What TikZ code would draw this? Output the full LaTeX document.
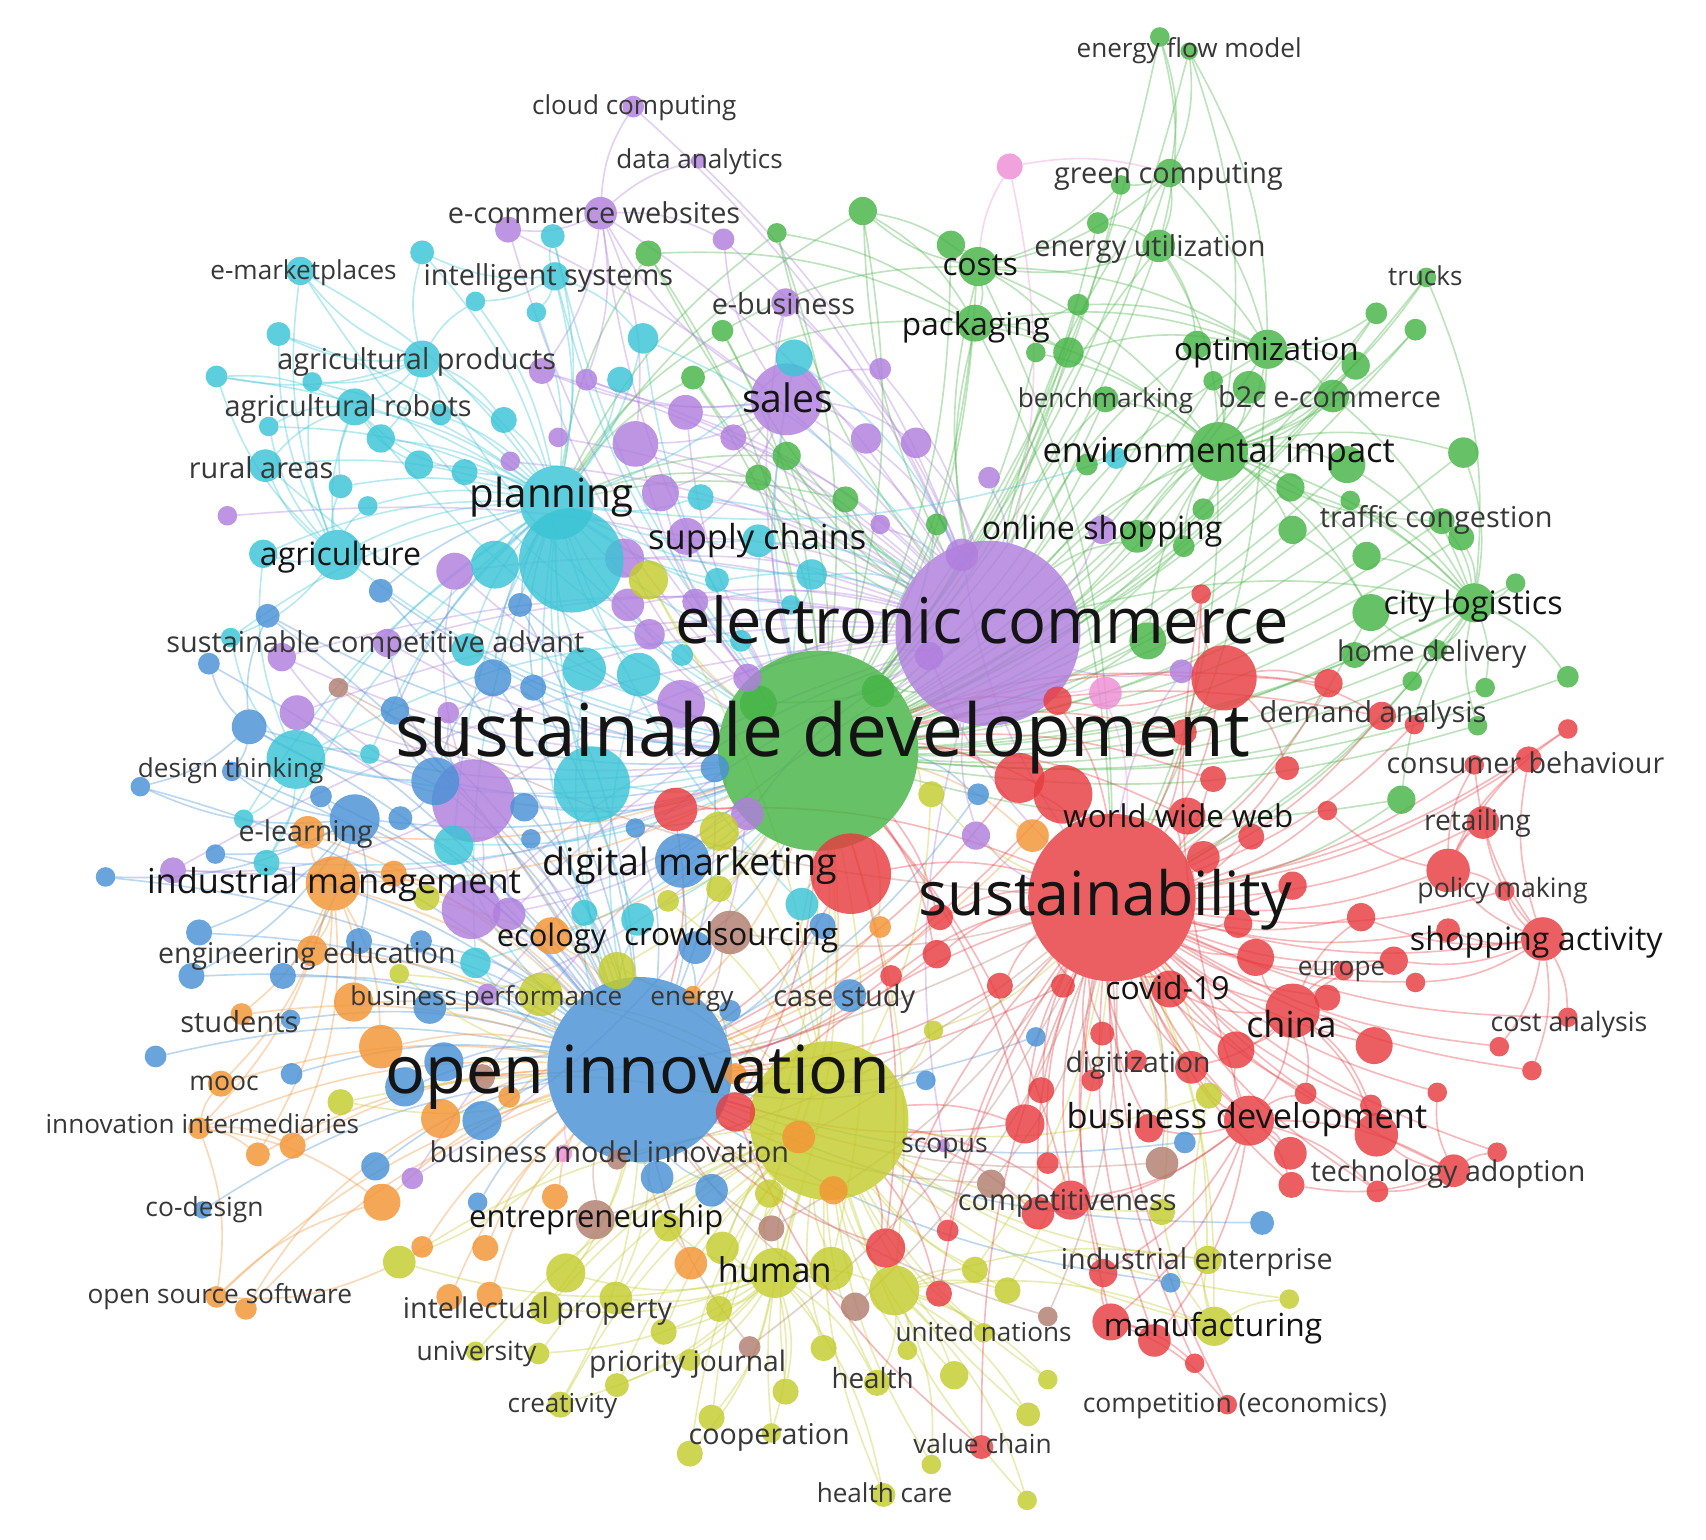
\documentclass[tikz,border=0pt]{standalone}
\usepackage{fontspec}
\setmainfont{Open Sans}
\usetikzlibrary{backgrounds}
\definecolor{cR}{RGB}{231,60,64}
\definecolor{cG}{RGB}{70,180,70}
\definecolor{cB}{RGB}{72,145,214}
\definecolor{cY}{RGB}{196,204,44}
\definecolor{cP}{RGB}{176,126,222}
\definecolor{cC}{RGB}{58,196,214}
\definecolor{cO}{RGB}{244,148,52}
\definecolor{cN}{RGB}{178,126,112}
\definecolor{cK}{RGB}{238,142,214}
\definecolor{labg}{RGB}{55,55,55}
\definecolor{labd}{RGB}{20,20,20}
\tikzset{
 vtx/.style={circle, inner sep=0pt, outer sep=0pt, draw=none, fill opacity=0.82},
 lab/.style={anchor=base, inner sep=0pt, outer sep=0pt, text=labg},
 labd/.style={anchor=base, inner sep=0pt, outer sep=0pt, text=labd},
 ebase/.style={line width=1.5pt, draw opacity=0.36},
 eR/.style={ebase, draw=cR}, eG/.style={ebase, draw=cG}, eB/.style={ebase, draw=cB},
 eY/.style={ebase, draw=cY}, eP/.style={ebase, draw=cP}, eC/.style={ebase, draw=cC},
 eO/.style={ebase, draw=cO}, eN/.style={ebase, draw=cN}, eK/.style={ebase, draw=cK}
}
\newcommand\vx[5]{\node[vtx, fill=#2, minimum size={2*#5pt}] (#1) at (#3,#4) {};}
\newcommand\lb[5]{\node[lab, font=\fontsize{#4}{#4}\selectfont] (#1) at (#2,{#3+0.29*#4+2}) {#5};}
\newcommand\lbd[5]{\node[labd, font=\fontsize{#4}{#4}\selectfont] (#1) at (#2,{#3+0.29*#4+2}) {#5};}
\begin{document}
\begin{tikzpicture}[x=1pt,y=-1pt]
\useasboundingbox (0,0) rectangle (1568,1415);
% ---------- hubs ----------
\vx{sd}{cG}{752}{690}{92}
\vx{ec}{cP}{908}{582}{85}
\vx{su}{cR}{1022}{825}{77}
\vx{oi}{cB}{588}{983}{85}
\vx{yb}{cY}{762}{1030}{73}
\vx{pl}{cC}{512}{462}{34}
% ---------- green ----------
\vx{g1}{cG}{1066}{34}{9}
\vx{g2}{cG}{1093}{47}{8}
\vx{g3}{cG}{1075}{159}{13}
\vx{g4}{cG}{1030}{170}{9}
\vx{g5}{cG}{1009}{205}{10}
\vx{g6}{cG}{1065}{226}{15}
\vx{g7}{cG}{874}{225}{13}
\vx{g8}{cG}{899}{245}{18}
\vx{g9}{cG}{793}{194}{13}
\vx{g10}{cG}{714}{214}{9}
\vx{g11}{cG}{596}{233}{12}
\vx{g12}{cG}{991}{280}{10}
\vx{g13}{cG}{664}{304}{10}
\vx{g14}{cG}{896}{297}{17}
\vx{g15}{cG}{952}{324}{9}
\vx{g16}{cG}{982}{324}{14}
\vx{g17}{cG}{637}{347}{11}
\vx{g18}{cG}{1311}{255}{9}
\vx{g19}{cG}{1265}{288}{10}
\vx{g20}{cG}{1301}{303}{10}
\vx{g21}{cG}{1100}{317}{13}
\vx{g22}{cG}{1165}{321}{18}
\vx{g23}{cG}{1246}{336}{13}
\vx{g24}{cG}{1115}{350}{9}
\vx{g25}{cG}{1148}{356}{15}
\vx{g26}{cG}{1225}{364}{15}
\vx{g27}{cG}{1016}{367}{12}
\vx{g28}{cG}{723}{419}{13}
\vx{g29}{cG}{697}{439}{12}
\vx{g30}{cG}{999}{427}{10}
\vx{g31}{cG}{777}{459}{12}
\vx{g32}{cG}{1120}{415}{27}
\vx{g33}{cG}{1238}{427}{17}
\vx{g34}{cG}{1345}{416}{14}
\vx{g35}{cG}{1186}{448}{13}
\vx{g36}{cG}{1241}{460}{9}
\vx{g37}{cG}{1106}{468}{10}
\vx{g38}{cG}{861}{482}{10}
\vx{g39}{cG}{1188}{487}{13}
\vx{g40}{cG}{1088}{502}{10}
\vx{g41}{cG}{1256}{511}{13}
\vx{g42}{cG}{1343}{494}{12}
\vx{g43}{cG}{1325}{479}{12}
\vx{g44}{cG}{1393}{536}{9}
\vx{g45}{cG}{1260}{563}{17}
\vx{g46}{cG}{1355}{554}{18}
\vx{g47}{cG}{1055}{589}{17}
\vx{g48}{cG}{1245}{602}{12}
\vx{g49}{cG}{1321}{597}{9}
\vx{g50}{cG}{1298}{626}{9}
\vx{g51}{cG}{1365}{632}{9}
\vx{g52}{cG}{1441}{622}{10}
\vx{g53}{cG}{1358}{667}{9}
\vx{g54}{cG}{1288}{735}{13}
\vx{g55}{cG}{807}{635}{15}
\vx{g56}{cG}{697}{647}{17}
\vx{g57}{cG}{1045}{493}{15}
% ---------- purple ----------
\vx{p1}{cP}{582}{98}{10}
\vx{p2}{cP}{642}{148}{7}
\vx{p3}{cP}{552}{196}{15}
\vx{p4}{cP}{467}{211}{12}
\vx{p5}{cP}{665}{220}{10}
\vx{p6}{cP}{722}{278}{13}
\vx{p7}{cP}{809}{339}{10}
\vx{p8}{cP}{539}{349}{10}
\vx{p9}{cP}{498}{341}{12}
\vx{p10}{cP}{723}{367}{33}
\vx{p11}{cP}{630}{379}{16}
\vx{p12}{cP}{584}{408}{21}
\vx{p13}{cP}{674}{402}{12}
\vx{p14}{cP}{796}{403}{14}
\vx{p15}{cP}{842}{407}{14}
\vx{p16}{cP}{513}{402}{9}
\vx{p17}{cP}{469}{424}{9}
\vx{p18}{cP}{909}{439}{10}
\vx{p19}{cP}{607}{453}{17}
\vx{p20}{cP}{209}{474}{9}
\vx{p21}{cP}{418}{525}{17}
\vx{p22}{cP}{631}{493}{17}
\vx{p23}{cP}{574}{513}{18}
\vx{p24}{cP}{809}{482}{9}
\vx{p25}{cP}{884}{510}{15}
\vx{p26}{cP}{577}{556}{15}
\vx{p27}{cP}{639}{553}{12}
\vx{p28}{cP}{597}{583}{14}
\vx{p29}{cP}{854}{603}{13}
\vx{p30}{cP}{687}{623}{13}
\vx{p31}{cP}{626}{647}{22}
\vx{p32}{cP}{356}{591}{13}
\vx{p33}{cP}{259}{604}{13}
\vx{p34}{cP}{412}{655}{10}
\vx{p35}{cP}{273}{655}{16}
\vx{p36}{cP}{435}{736}{38}
\vx{p37}{cP}{687}{748}{15}
\vx{p38}{cP}{897}{768}{13}
\vx{p39}{cP}{159}{800}{12}
\vx{p40}{cP}{433}{836}{27}
\vx{p41}{cP}{468}{840}{15}
\vx{p42}{cP}{448}{914}{10}
\vx{p43}{cP}{379}{1083}{10}
\vx{p44}{cP}{867}{1053}{6}
\vx{p45}{cP}{1086}{617}{11}
\vx{p46}{cP}{1013}{487}{13}
% ---------- cyan ----------
\vx{c1}{cC}{508}{217}{11}
\vx{c2}{cC}{388}{232}{11}
\vx{c3}{cC}{276}{249}{13}
\vx{c4}{cC}{510}{254}{13}
\vx{c5}{cC}{437}{277}{9}
\vx{c6}{cC}{493}{287}{9}
\vx{c7}{cC}{256}{307}{11}
\vx{c8}{cC}{591}{311}{14}
\vx{c9}{cC}{388}{330}{17}
\vx{c10}{cC}{730}{329}{17}
\vx{c11}{cC}{570}{349}{12}
\vx{c12}{cC}{199}{346}{10}
\vx{c13}{cC}{287}{351}{9}
\vx{c14}{cC}{326}{374}{17}
\vx{c15}{cC}{405}{381}{10}
\vx{c16}{cC}{463}{386}{12}
\vx{c17}{cC}{247}{392}{9}
\vx{c18}{cC}{350}{403}{13}
\vx{c19}{cC}{385}{427}{13}
\vx{c20}{cC}{427}{434}{12}
\vx{c21}{cC}{244}{428}{15}
\vx{c22}{cC}{313}{447}{11}
\vx{c23}{cC}{338}{465}{9}
\vx{c24}{cC}{644}{457}{12}
\vx{c25}{cC}{242}{509}{13}
\vx{c26}{cC}{310}{510}{23}
\vx{c27}{cC}{455}{519}{22}
\vx{c28}{cC}{525}{515}{48}
\vx{c29}{cC}{697}{497}{15}
\vx{c30}{cC}{746}{528}{14}
\vx{c31}{cC}{659}{533}{11}
\vx{c32}{cC}{727}{556}{9}
\vx{c33}{cC}{681}{589}{10}
\vx{c34}{cC}{627}{602}{10}
\vx{c35}{cC}{212}{586}{9}
\vx{c36}{cC}{430}{597}{15}
\vx{c37}{cC}{537}{615}{20}
\vx{c38}{cC}{587}{620}{20}
\vx{c39}{cC}{272}{698}{27}
\vx{c40}{cC}{340}{693}{9}
\vx{c41}{cC}{544}{721}{35}
\vx{c42}{cC}{224}{753}{9}
\vx{c43}{cC}{417}{777}{18}
\vx{c44}{cC}{245}{793}{12}
\vx{c45}{cC}{737}{831}{15}
\vx{c46}{cC}{537}{839}{12}
\vx{c47}{cC}{586}{845}{15}
\vx{c48}{cC}{437}{885}{14}
\vx{c49}{cC}{1026}{421}{10}
% ---------- blue ----------
\vx{b1}{cB}{350}{543}{11}
\vx{b2}{cB}{478}{556}{11}
\vx{b3}{cB}{246}{566}{11}
\vx{b4}{cB}{192}{610}{10}
\vx{b5}{cB}{453}{623}{17}
\vx{b6}{cB}{490}{632}{12}
\vx{b7}{cB}{363}{653}{13}
\vx{b8}{cB}{229}{668}{16}
\vx{b9}{cB}{213}{709}{9}
\vx{b10}{cB}{129}{723}{9}
\vx{b11}{cB}{295}{732}{10}
\vx{b12}{cB}{400}{718}{22}
\vx{b13}{cB}{326}{753}{23}
\vx{b14}{cB}{368}{752}{11}
\vx{b15}{cB}{482}{742}{13}
\vx{b16}{cB}{488}{771}{9}
\vx{b17}{cB}{198}{785}{9}
\vx{b18}{cB}{97}{806}{9}
\vx{b19}{cB}{183}{857}{12}
\vx{b20}{cB}{330}{865}{12}
\vx{b21}{cB}{387}{865}{10}
\vx{b22}{cB}{176}{897}{12}
\vx{b23}{cB}{260}{897}{12}
\vx{b24}{cB}{395}{926}{15}
\vx{b25}{cB}{267}{937}{9}
\vx{b26}{cB}{657}{706}{13}
\vx{b27}{cB}{627}{791}{25}
\vx{b28}{cB}{584}{761}{9}
\vx{b29}{cB}{899}{730}{10}
\vx{b30}{cB}{639}{871}{15}
\vx{b31}{cB}{756}{851}{12}
\vx{b32}{cB}{781}{915}{15}
\vx{b33}{cB}{671}{929}{10}
\vx{b34}{cB}{143}{971}{10}
\vx{b35}{cB}{268}{987}{10}
\vx{b36}{cB}{408}{976}{18}
\vx{b37}{cB}{372}{999}{18}
\vx{b38}{cB}{443}{1030}{18}
\vx{b39}{cB}{345}{1072}{13}
\vx{b40}{cB}{439}{1105}{9}
\vx{b41}{cB}{186}{1112}{8}
\vx{b42}{cB}{604}{1082}{15}
\vx{b43}{cB}{654}{1094}{15}
\vx{b44}{cB}{851}{993}{9}
\vx{b45}{cB}{952}{953}{9}
\vx{b46}{cB}{1089}{1050}{10}
\vx{b47}{cB}{1160}{1124}{11}
\vx{b48}{cB}{1076}{1179}{9}
% ---------- orange ----------
\vx{o1}{cO}{283}{765}{15}
\vx{o2}{cO}{306}{812}{25}
\vx{o3}{cO}{362}{803}{12}
\vx{o4}{cO}{507}{860}{17}
\vx{o5}{cO}{287}{874}{14}
\vx{o6}{cO}{325}{921}{18}
\vx{o7}{cO}{222}{932}{10}
\vx{o8}{cO}{350}{962}{20}
\vx{o9}{cO}{203}{996}{12}
\vx{o10}{cO}{468}{1008}{10}
\vx{o11}{cO}{405}{1028}{18}
\vx{o12}{cO}{183}{1037}{10}
\vx{o13}{cO}{269}{1053}{12}
\vx{o14}{cO}{237}{1061}{11}
\vx{o15}{cO}{351}{1105}{17}
\vx{o16}{cO}{510}{1100}{12}
\vx{o17}{cO}{388}{1146}{10}
\vx{o18}{cO}{446}{1147}{12}
\vx{o19}{cO}{199}{1192}{10}
\vx{o20}{cO}{226}{1203}{10}
\vx{o21}{cO}{413}{1192}{12}
\vx{o22}{cO}{450}{1190}{12}
\vx{o23}{cO}{635}{1161}{15}
\vx{o24}{cO}{676}{987}{10}
\vx{o25}{cO}{734}{1045}{15}
\vx{o26}{cO}{809}{852}{10}
\vx{o27}{cO}{949}{768}{15}
\vx{o28}{cO}{637}{914}{8}
\vx{o29}{cO}{766}{1094}{13}
% ---------- yellow ----------
\vx{y1}{cY}{596}{533}{18}
\vx{y2}{cY}{856}{730}{12}
\vx{y3}{cY}{661}{764}{18}
\vx{y4}{cY}{661}{817}{12}
\vx{y5}{cY}{614}{828}{10}
\vx{y6}{cY}{567}{892}{17}
\vx{y7}{cY}{497}{914}{20}
\vx{y8}{cY}{392}{825}{12}
\vx{y9}{cY}{367}{895}{9}
\vx{y10}{cY}{313}{1013}{12}
\vx{y11}{cY}{367}{1160}{15}
\vx{y12}{cY}{520}{1170}{18}
\vx{y13}{cY}{502}{1202}{15}
\vx{y14}{cY}{437}{1242}{9}
\vx{y15}{cY}{495}{1244}{10}
\vx{y16}{cY}{515}{1291}{12}
\vx{y17}{cY}{707}{1097}{13}
\vx{y18}{cY}{614}{1128}{13}
\vx{y19}{cY}{858}{947}{9}
\vx{y20}{cY}{664}{1147}{15}
\vx{y21}{cY}{712}{1170}{23}
\vx{y22}{cY}{764}{1166}{20}
\vx{y23}{cY}{822}{1186}{23}
\vx{y24}{cY}{896}{1167}{12}
\vx{y25}{cY}{926}{1186}{12}
\vx{y26}{cY}{566}{1193}{15}
\vx{y27}{cY}{661}{1203}{12}
\vx{y28}{cY}{610}{1224}{12}
\vx{y29}{cY}{757}{1239}{12}
\vx{y30}{cY}{834}{1241}{9}
\vx{y31}{cY}{904}{1225}{9}
\vx{y32}{cY}{634}{1250}{10}
\vx{y33}{cY}{567}{1273}{11}
\vx{y34}{cY}{722}{1279}{12}
\vx{y35}{cY}{806}{1271}{12}
\vx{y36}{cY}{877}{1264}{13}
\vx{y37}{cY}{963}{1268}{9}
\vx{y38}{cY}{654}{1303}{12}
\vx{y39}{cY}{709}{1317}{9}
\vx{y40}{cY}{634}{1336}{12}
\vx{y41}{cY}{945}{1300}{11}
\vx{y42}{cY}{856}{1346}{9}
\vx{y43}{cY}{812}{1374}{11}
\vx{y44}{cY}{944}{1379}{9}
\vx{y45}{cY}{1111}{1007}{12}
\vx{y46}{cY}{1068}{1114}{12}
\vx{y47}{cY}{1110}{1158}{13}
\vx{y48}{cY}{1185}{1194}{9}
\vx{y49}{cY}{1116}{1219}{18}
% ---------- red ----------
\vx{r1}{cR}{782}{803}{37}
\vx{r2}{cR}{621}{744}{20}
\vx{r3}{cR}{937}{715}{23}
\vx{r4}{cR}{977}{730}{27}
\vx{r5}{cR}{972}{644}{13}
\vx{r6}{cR}{864}{843}{12}
\vx{r7}{cR}{861}{877}{13}
\vx{r8}{cR}{819}{897}{10}
\vx{r9}{cR}{919}{906}{12}
\vx{r10}{cR}{977}{906}{11}
\vx{r11}{cR}{1104}{546}{9}
\vx{r12}{cR}{1125}{623}{30}
\vx{r13}{cR}{1221}{628}{13}
\vx{r14}{cR}{1270}{658}{13}
\vx{r15}{cR}{1300}{666}{9}
\vx{r16}{cR}{1441}{670}{9}
\vx{r17}{cR}{1088}{673}{12}
\vx{r18}{cR}{1115}{716}{12}
\vx{r19}{cR}{1183}{706}{11}
\vx{r20}{cR}{1355}{703}{9}
\vx{r21}{cR}{1405}{698}{12}
\vx{r22}{cR}{1220}{745}{9}
\vx{r23}{cR}{1091}{750}{17}
\vx{r24}{cR}{1363}{756}{15}
\vx{r25}{cR}{1150}{769}{12}
\vx{r26}{cR}{1106}{788}{15}
\vx{r27}{cR}{1331}{800}{20}
\vx{r28}{cR}{1188}{814}{13}
\vx{r29}{cR}{1383}{819}{9}
\vx{r30}{cR}{1251}{843}{13}
\vx{r31}{cR}{1138}{849}{13}
\vx{r32}{cR}{1331}{855}{11}
\vx{r33}{cR}{1418}{863}{20}
\vx{r34}{cR}{1154}{880}{17}
\vx{r35}{cR}{1281}{883}{13}
\vx{r36}{cR}{1235}{892}{9}
\vx{r37}{cR}{1301}{903}{9}
\vx{r38}{cR}{1075}{909}{17}
\vx{r39}{cR}{1220}{917}{12}
\vx{r40}{cR}{1188}{929}{25}
\vx{r41}{cR}{1441}{935}{9}
\vx{r42}{cR}{1263}{961}{17}
\vx{r43}{cR}{1136}{965}{17}
\vx{r44}{cR}{1095}{981}{15}
\vx{r45}{cR}{1378}{962}{9}
\vx{r46}{cR}{1408}{984}{9}
\vx{r47}{cR}{1200}{1005}{10}
\vx{r48}{cR}{1321}{1004}{9}
\vx{r49}{cR}{1260}{1016}{10}
\vx{r50}{cR}{1148}{1030}{23}
\vx{r51}{cR}{1056}{1037}{13}
\vx{r52}{cR}{1265}{1043}{20}
\vx{r53}{cR}{1186}{1060}{15}
\vx{r54}{cR}{1376}{1059}{9}
\vx{r55}{cR}{1336}{1076}{15}
\vx{r56}{cR}{1187}{1089}{12}
\vx{r57}{cR}{1266}{1095}{10}
\vx{r58}{cR}{1061}{1232}{15}
\vx{r59}{cR}{1098}{1253}{9}
\vx{r60}{cR}{1128}{1291}{9}
\vx{r61}{cR}{676}{1022}{18}
\vx{r62}{cR}{957}{1002}{12}
\vx{r63}{cR}{942}{1033}{18}
\vx{r64}{cR}{1004}{993}{10}
\vx{r65}{cR}{963}{1069}{10}
\vx{r66}{cR}{984}{1103}{18}
\vx{r67}{cR}{954}{1115}{15}
\vx{r68}{cR}{871}{1131}{10}
\vx{r69}{cR}{814}{1147}{18}
\vx{r70}{cR}{863}{1189}{12}
\vx{r71}{cR}{1021}{1215}{17}
\vx{r72}{cR}{1014}{1170}{13}
\vx{r73}{cR}{902}{1330}{11}
\vx{r74}{cR}{1044}{975}{10}
\vx{r75}{cR}{1013}{950}{11}
% ---------- brown / pink ----------
\vx{n1}{cN}{311}{632}{9}
\vx{n2}{cN}{671}{857}{20}
\vx{n3}{cN}{443}{990}{12}
\vx{n4}{cN}{567}{1066}{9}
\vx{n5}{cN}{547}{1121}{18}
\vx{n6}{cN}{709}{1129}{12}
\vx{n7}{cN}{911}{1088}{13}
\vx{n8}{cN}{786}{1201}{13}
\vx{n9}{cN}{963}{1210}{9}
\vx{n10}{cN}{689}{1238}{10}
\vx{n11}{cN}{1068}{1069}{15}
\vx{k1}{cK}{928}{153}{12}
\vx{k2}{cK}{1016}{637}{15}
\vx{k3}{cK}{518}{1060}{8}
% ---------- edges ----------
\begin{pgfonlayer}{background}
\fill[white] (0,0) rectangle (1568,1415);
% green
\foreach \i in {1,...,57} \draw[eG] (g\i) to[bend left=12] (sd);
\foreach \i in {3,6,8,9,10,11,13,14,17,21,22,26,27,28,29,31,32,38,46,55,56,57} \draw[eG] (g\i) to[bend right=12] (ec);
\foreach \a/\b in {1/3,2/3,1/6,2/22,2/32,3/6,3/8,3/22,3/4,4/8,5/6,6/8,6/22,6/32,6/21,7/8,8/14,8/9,8/22,8/32,8/16,9/14,10/14,11/14,12/14,14/32,14/22,14/16,15/32,16/22,18/46,18/32,19/22,19/32,20/32,21/22,22/32,22/26,22/23,23/32,24/32,25/32,26/32,26/46,27/32,30/32,32/33,32/35,32/46,32/45,32/34,32/37,32/39,32/41,33/46,34/46,35/46,36/46,39/45,41/46,43/46,43/32,44/46,45/46,46/49,46/52,46/51,48/46,49/45,50/46,53/46,54/46,57/32,47/32,40/32,42/46,12/22,9/8,13/8,17/14}
  \draw[eG] (g\a) to[bend left=14] (g\b);
\foreach \a in {8,14,22,32,45,46,49,54} \draw[eG] (g\a) to[bend left=12] (su);
\foreach \a in {9,10,11,13,17,28,29,31} \draw[eG] (g\a) to[bend right=12] (pl);
% purple
\foreach \i in {1,...,46} \draw[eP] (p\i) to[bend left=12] (ec);
\foreach \i in {3,4,6,9,10,11,12,19,21,23,26,31,32,33,35,36,39,40,41,42,43} \draw[eP] (p\i) to[bend right=12] (sd);
\foreach \b in {3,5,6,7,8,9,11,12,13,14,15,19,22} \draw[eP] (p10) to[bend left=14] (p\b);
\foreach \b in {1,2,4,5,8,9,12} \draw[eP] (p3) to[bend left=14] (p\b);
\foreach \b in {21,32,33,34,35,39,40,41} \draw[eP] (p36) to[bend left=14] (p\b);
\foreach \i in {36,37,40,41} \draw[eP] (p\i) to[bend left=12] (oi);
\foreach \i in {25,29,38,45} \draw[eP] (p\i) to[bend right=12] (su);
\draw[eK] (k1) to[bend left=12] (g3);
\draw[eK] (k1) to[bend right=12] (g8);
\draw[eK] (k1) to[bend left=12] (ec);
\draw[eK] (k2) to[bend left=12] (ec);
\draw[eK] (k2) to[bend left=12] (su);
\draw[eK] (k3) to[bend left=12] (oi);
% cyan
\foreach \i in {1,...,49} \draw[eC] (c\i) to[bend left=12] (pl);
\foreach \i in {1,3,4,8,9,10,14,21,26,29,30,36,39,41,43,44,45,47,48} \draw[eC] (c\i) to[bend right=12] (sd);
\foreach \i in {8,10,24,29,30,31} \draw[eC] (c\i) to[bend left=14] (ec);
\foreach \i in {37,38,41,43,46,47,48} \draw[eC] (c\i) to[bend right=12] (oi);
\foreach \b in {3,7,12,13,14,17,21,22,23,25,35} \draw[eC] (c26) to[bend left=14] (c\b);
\foreach \b in {2,3,5,7,12,13,14,15,16,18} \draw[eC] (c9) to[bend left=14] (c\b);
\foreach \b in {25,33,35,40,42,44} \draw[eC] (c39) to[bend left=14] (c\b);
\foreach \b in {1,2,5,6,8} \draw[eC] (c4) to[bend left=14] (c\b);
\foreach \b in {12,17,19,20,21,22} \draw[eC] (c14) to[bend right=14] (c\b);
% blue
\foreach \i in {1,...,48} \draw[eB] (b\i) to[bend left=12] (oi);
\foreach \i in {1,2,3,5,7,8,12,13,15,26,27,28,29,30} \draw[eB] (b\i) to[bend right=12] (sd);
\foreach \i in {1,2,5,6,7} \draw[eB] (b\i) to[bend left=12] (pl);
\foreach \b in {9,10,11,17,18,19,20,22,23} \draw[eB] (b13) to[bend left=14] (b\b);
\foreach \b in {5,7,8,14} \draw[eB] (b12) to[bend left=14] (b\b);
\foreach \b in {3,4,9,10} \draw[eB] (b8) to[bend left=14] (b\b);
% orange
\foreach \i in {1,...,29} \draw[eO] (o\i) to[bend left=12] (oi);
\foreach \b in {1,3,5,6,7,8,9,12,13,14} \draw[eO] (o2) to[bend left=14] (o\b);
\foreach \b in {9,13,14,15,19} \draw[eO] (o12) to[bend left=14] (o\b);
\draw[eO] (o19) to[bend left=14] (o15);
\draw[eO] (o20) to[bend left=14] (o11);
\draw[eO] (o19) to[bend right=14] (y11);
\foreach \i in {1,2,4,24,25,26,27,28} \draw[eO] (o\i) to[bend right=12] (sd);
% yellow
\foreach \i in {1,...,49} \draw[eY] (y\i) to[bend left=12] (yb);
\foreach \b in {11,12,13,15,16,17,18,20,22,23,26,27,28,29,32,33,34,35,38,39,40,43} \draw[eY] (y21) to[bend left=14] (y\b);
\foreach \b in {24,25,30,31,35,36,37,41,42,44,47,49} \draw[eY] (y23) to[bend left=14] (y\b);
\foreach \b in {45,46,47,48} \draw[eY] (y49) to[bend left=14] (y\b);
\foreach \i in {6,7,9,10,11,12,13,16,26} \draw[eY] (y\i) to[bend right=12] (oi);
\foreach \i in {2,19,24,25,45,46,47,49} \draw[eY] (y\i) to[bend right=12] (su);
\foreach \i in {1,2,3,4,5,6,17,20,21,22,23} \draw[eY] (y\i) to[bend right=12] (sd);
% red
\foreach \i in {1,...,75} \draw[eR] (r\i) to[bend left=12] (su);
\foreach \i in {1,2,3,4,5,6,7,12,13,14,17,18,23,61,63,66,69} \draw[eR] (r\i) to[bend right=12] (sd);
\foreach \i in {1,2,3,4,6,7,8,9,10,61,63,69} \draw[eR] (r\i) to[bend left=12] (oi);
\foreach \b in {20,21,24,27,29,30,32,35,37,41,45,46} \draw[eR] (r33) to[bend left=14] (r\b);
\foreach \b in {30,34,35,36,38,39,42,43,44,47,49,50,52} \draw[eR] (r40) to[bend left=14] (r\b);
\foreach \b in {11,43,44,47,51,53,55,56,57,58,66,67,71,72} \draw[eR] (r50) to[bend left=14] (r\b);
\foreach \b in {5,11,13,14,17,19} \draw[eR] (r12) to[bend left=14] (r\b);
\foreach \b in {48,52,54,56,57} \draw[eR] (r55) to[bend left=14] (r\b);
\foreach \b in {16,20,21,22,24,29} \draw[eR] (r27) to[bend left=14] (r\b);
\foreach \b in {58,59,60,72} \draw[eR] (r71) to[bend left=14] (r\b);
\draw[eR] (r73) to[bend left=14] (r61);
\foreach \i in {61,63,66,67,68,69,70} \draw[eR] (r\i) to[bend right=12] (yb);
% brown
\foreach \i in {1,...,11} {\draw[eN] (n\i) to[bend left=12] (oi); \draw[eN] (n\i) to[bend right=12] (su);}
\end{pgfonlayer}
% ---------- labels ----------
\lb{l1}{1093}{44}{24}{energy flow model}
\lb{l2}{583}{96}{24}{cloud computing}
\lb{l3}{643}{146}{24}{data analytics}
\lb{l4}{1074}{159}{26.5}{green computing}
\lb{l5}{546}{196}{26.5}{e-commerce websites}
\lb{l6}{1057}{226}{26.5}{energy utilization}
\lbd{l7}{901}{243}{29}{costs}
\lb{l8}{279}{248}{24}{e-marketplaces}
\lb{l9}{504}{253}{26.5}{intelligent systems}
\lb{l10}{1310}{253}{24}{trucks}
\lb{l11}{720}{279}{26.5}{e-business}
\lbd{l12}{897}{298}{29}{packaging}
\lbd{l13}{1164}{321}{29}{optimization}
\lb{l14}{383}{330}{26.5}{agricultural products}
\lb{l15}{1016}{366}{24}{benchmarking}
\lb{l16}{1222}{365}{26.5}{b2c e-commerce}
\lbd{l17}{724}{367}{36}{sales}
\lb{l18}{320}{373}{26.5}{agricultural robots}
\lbd{l19}{1120}{414}{31.6}{environmental impact}
\lb{l20}{240}{430}{26.5}{rural areas}
\lbd{l21}{507}{454}{37}{planning}
\lb{l22}{1320}{475}{26.5}{traffic congestion}
\lbd{l23}{1013}{485}{29.5}{online shopping}
\lbd{l24}{696}{494}{31.7}{supply chains}
\lbd{l25}{313}{509}{29.5}{agriculture}
\lbd{l26}{1354}{554}{29.7}{city logistics}
\lbd{l27}{903}{573}{58}{electronic commerce}
\lb{l28}{345}{590}{26.5}{sustainable competitive advant}
\lb{l29}{1316}{598}{26.3}{home delivery}
\lbd{l30}{756}{674}{67}{sustainable development}
\lb{l31}{1262}{654}{26.6}{demand analysis}
\lb{l32}{1402}{701}{26.4}{consumer behaviour}
\lb{l33}{212}{706}{24}{design thinking}
\lbd{l34}{1083}{750}{28.8}{world wide web}
\lb{l35}{1358}{754}{26}{retailing}
\lb{l36}{281}{764}{26.3}{e-learning}
\lbd{l37}{634}{793}{34.6}{digital marketing}
\lbd{l38}{307}{810}{31.6}{industrial management}
\lbd{l39}{1016}{823}{56}{sustainability}
\lb{l40}{1381}{816}{24.5}{policy making}
\lbd{l41}{507}{860}{28.4}{ecology}
\lbd{l42}{672}{859}{28.9}{crowdsourcing}
\lbd{l43}{1412}{863}{29.6}{shopping activity}
\lb{l44}{282}{876}{26.2}{engineering education}
\lb{l45}{1233}{888}{24}{europe}
\lb{l46}{447}{915}{24}{business performance}
\lb{l47}{636}{915}{24}{energy}
\lb{l48}{776}{915}{26.7}{case study}
\lbd{l49}{1073}{908}{29.3}{covid-19}
\lb{l50}{220}{939}{26.7}{students}
\lbd{l51}{1187}{942}{33}{china}
\lb{l52}{1442}{939}{24.6}{cost analysis}
\lbd{l53}{586}{985}{61}{open innovation}
\lb{l54}{206}{993}{24.4}{mooc}
\lb{l55}{1046}{976}{26}{digitization}
\lb{l56}{186}{1033}{24}{innovation intermediaries}
\lbd{l57}{1146}{1026}{31.6}{business development}
\lb{l58}{560}{1059}{26.4}{business model innovation}
\lb{l59}{868}{1050}{24.4}{scopus}
\lb{l60}{1331}{1076}{26.3}{technology adoption}
\lb{l61}{188}{1109}{24.3}{co-design}
\lb{l62}{981}{1103}{26.5}{competitiveness}
\lbd{l63}{548}{1118}{28.5}{entrepreneurship}
\lb{l64}{1100}{1157}{26.4}{industrial enterprise}
\lbd{l65}{712}{1168}{31.4}{human}
\lb{l66}{202}{1189}{24.1}{open source software}
\lb{l67}{494}{1202}{26.3}{intellectual property}
\lb{l68}{904}{1224}{24}{united nations}
\lbd{l69}{1115}{1218}{29.2}{manufacturing}
\lb{l70}{438}{1241}{24.3}{university}
\lb{l71}{632}{1251}{26}{priority journal}
\lb{l72}{802}{1267}{25.6}{health}
\lb{l73}{517}{1289}{24}{creativity}
\lb{l74}{1135}{1289}{24.4}{competition (economics)}
\lb{l75}{707}{1318}{26.3}{cooperation}
\lb{l76}{903}{1327}{24.2}{value chain}
\lb{l77}{813}{1372}{24}{health care}
\end{tikzpicture}
\end{document}
